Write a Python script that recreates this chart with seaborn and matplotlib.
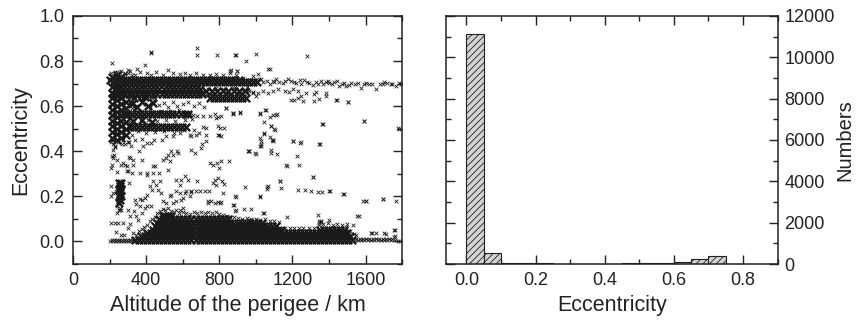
import matplotlib
matplotlib.use("Agg")
import matplotlib.pyplot as plt
from matplotlib.ticker import MultipleLocator, FormatStrFormatter
import pandas as pd
import seaborn as sns

# ---------------- data: scatter (altitude of perigee [km], eccentricity) ----------------
# isolated / sparse objects
outlier_pts = [
    (211,.793),(424,.834),(424,.841),(678,.859),(678,.825),(787,.825),(884,.825),(890,.825),(944,.799),
    (1002,.833),(1278,.822),(395,.784),(865,.759),(896,.756),(1067,.766),
    (1593,.536),(1362,.519),(1780,.504),(1502,.618),(1438,.627),(1344,.43),(1202,.444),(1247,.44),
    (1225,.381),(1235,.338),(1165,.338),(1311,.284),(1315,.284),(1133,.27),(1138,.237),(1229,.23),
    (1271,.227),(1300,.222),(1338,.218),(1362,.218),(1402,.225),(1480,.21),(1584,.178),(1605,.178),
    (1698,.188),(1765,.178),(1025,.2),(1062,.24),(1062,.233),(942,.24),(935,.145),(1042,.126),(973,.096),
    (1169,.108),(1340,.119),(1355,.089),(1347,.082),(1398,.096),(1496,.077),(1533,.074),(1556,.111),
    (1629,.037),(1656,.039),(1702,.037),(1711,.033),(1756,.052),(1756,.022),(1762,.007),
    (707,.43),(698,.415),(729,.474),(687,.481),(642,.471),(662,.492),(638,.564),(715,.597),(778,.563),
    (793,.553),(811,.556),(825,.504),(791,.514),(798,.471),(809,.467),(787,.348),(798,.326),(851,.356),
    (835,.593),(873,.567),(913,.57),(958,.4),(962,.4),(995,.393),(1025,.563),(1051,.581),(1029,.444),
    (1025,.422),(1042,.481),(1045,.478),(1078,.462),(1093,.452),(1084,.511),(1104,.496),(1082,.404),
    (1080,.553),(1111,.559),(1116,.39),
    (820,.215),(815,.267),(825,.255),(802,.17),(793,.173),(811,.173),(885,.2),(889,.141),(744,.222),
    (720,.222),(680,.267),(693,.222),(638,.2),(644,.218),(629,.274),(611,.292),(565,.274),(571,.4),
    (575,.393),(547,.385),(533,.356),(520,.319),(475,.267),(471,.304),(456,.252),(467,.23),(482,.215),
    (451,.333),(407,.304),(404,.296),(425,.156),(402,.207),(375,.185),(347,.167),(335,.133),(344,.114),
    (307,.259),(302,.311),(320,.304),(305,.375),(311,.37),(329,.341),(285,.338),(293,.333),(242,.36),
    (216,.37),(211,.341),(207,.326),(238,.308),(269,.267),(233,.222),(220,.215),(207,.244),(207,.2),
    (242,.156),(251,.141),(238,.126),(207,.081),(229,.081),(247,.084),(275,.084),(235,.044),(260,.03),
    (278,.03),(302,.062),(311,.079),(329,.037),(356,.096),(375,.126),(384,.422),(402,.437),(429,.437),
    (442,.452),(362,.4),(375,.363),(307,.44),(315,.422),(275,.452),(284,.43),(229,.425),(220,.407),
    (224,.385),(213,.452),(584,.481),(607,.496),(547,.467),(511,.467),(484,.452),
    (211,.378),(265,.341),(274,.349),(293,.311),(329,.363),(365,.304),(438,.334),(438,.304),(438,.267),
    (420,.244),(434,.23),(393,.193),(402,.156),(393,.149),(338,.185),(365,.188),(302,.141),(311,.111),
    (365,.156),(493,.178),(529,.2),(538,.207),(511,.17),(547,.17),(565,.178),(593,.185),(602,.193),
    (611,.215),(620,.222),(593,.274),(584,.215),(584,.252),(511,.37),(520,.385),(538,.4),(493,.363),
    (565,.222),(647,.222),(675,.222),(647,.407),(665,.393),(747,.347),(765,.341),(811,.356),(775,.274),
    (793,.281),(765,.259),(784,.252),(738,.178),(756,.178),(775,.17),(738,.17),(875,.163),(884,.133),
    (602,.148),(584,.141),(965,.4),(1000,.39),(1029,.43),(1093,.445),(1242,.437),(1351,.43),(1084,.393),
    (1169,.336),(1131,.27),(1065,.244),(1407,.226),(1476,.21),(1602,.181),(1696,.188),(1024,.197),
    (889,.196),(878,.16),(971,.145),(1038,.126),(1344,.093),(1356,.087),(1562,.111),(1635,.036),
    (1760,.051),(1760,.025),(255,.15),(250,.14),(262,.138),
]

# sparse objects around the high-eccentricity bands
upper_sparse_pts = [
    (1111,.719),(1129,.707),(1147,.701),(1175,.719),(1193,.711),(1220,.701),(1247,.696),(1266,.716),
    (1293,.701),(1329,.707),(1357,.711),(1384,.708),(1402,.704),(1442,.711),(1457,.689),(1484,.701),
    (1493,.689),(1520,.701),(1557,.704),(1575,.682),(1602,.704),(1638,.699),(1657,.677),(1693,.696),
    (1720,.701),(1747,.696),(1766,.689),(1784,.701),
    (1040,.705),(1060,.712),(1080,.698),(1100,.705),(1160,.712),(1210,.708),(1240,.715),(1280,.708),
    (1310,.695),(1340,.700),(1370,.698),(1395,.712),(1415,.700),(1430,.705),(1470,.698),(1510,.695),
    (1540,.698),(1590,.697),(1620,.70),(1680,.70),(1700,.705),(1740,.70),(1795,.697),
    (875,.674),(929,.667),(956,.67),(984,.662),(1038,.667),(1066,.659),(1093,.667),(1120,.674),
    (1157,.667),(1184,.662),(1202,.674),(1229,.667),(1193,.627),(1211,.627),(1229,.637),(1247,.645),
    (1260,.622),(1275,.659),(1320,.652),(1329,.662),(1384,.659),(1347,.633),(1320,.622),(1384,.645),
    (1442,.627),(1502,.618),
    (875,.568),(916,.573),(1024,.568),(1053,.582),(1093,.559),(1115,.563),(1044,.529),(1084,.511),
    (1102,.5),(1366,.522),(1593,.533),(1784,.5),(1024,.459),(1089,.452),(1202,.445),(1029,.425),
    (229,.735),(256,.748),(284,.742),(311,.755),(338,.738),(365,.75),(402,.745),(429,.738),(456,.752),
    (493,.74),(520,.758),(547,.745),(584,.742),(611,.748),(638,.738),(675,.745),(711,.74),(747,.736),
    (784,.742),(820,.738),(857,.745),(893,.74),(856,.756),(896,.756),(929,.726),(984,.733),(1011,.741),
    (1075,.763),(1029,.719),(1093,.711),(300,.762),(350,.765),(240,.752),
    (930,.712),(955,.705),(975,.718),(995,.71),(1015,.722),
    (240,.645),(270,.638),(300,.64),(330,.645),(360,.636),(390,.642),(420,.638),(445,.64),(680,.645),
    (700,.66),(720,.648),(740,.675),(760,.655),(780,.682),(800,.66),(820,.675),(850,.66),(880,.68),
    (910,.66),(940,.672),(960,.665),(985,.658),(1000,.645),(1010,.66),(950,.685),(600,.69),(640,.69),
    (520,.69),(450,.69),(380,.69),
    (320,.62),(345,.60),(370,.63),(395,.61),(420,.59),(445,.625),(470,.605),(495,.615),(520,.595),
    (545,.62),(570,.60),(600,.61),(630,.62),(660,.60),(690,.615),(340,.585),(380,.58),(430,.575),
    (480,.58),(530,.58),(580,.585),(330,.54),(370,.535),(410,.54),(460,.535),(510,.54),(560,.535),
    (610,.54),(650,.545),(355,.49),(400,.48),(450,.485),(500,.49),(550,.48),(320,.47),(340,.45),
    (380,.455),(711,.556),(747,.556),(784,.548),(838,.593),(875,.568),(711,.508),(729,.504),(802,.504),
    (793,.474),(647,.467),(675,.474),(729,.445),(655,.56),(680,.555),
    (205,.60),(208,.55),(206,.44),(220,.43),(230,.42),(245,.44),(270,.43),(300,.44),
    (210,.745),(230,.75),(260,.755),(285,.748),(300,.745),(320,.74),(310,.61),(320,.59),(315,.66),
    (330,.64),(300,.70),(305,.67),(310,.50),(305,.53),(312,.56),
]

# ragged upper edge of the low-eccentricity cloud
fringe_pts = [
    (345,.03),(360,.045),(378,.055),(390,.065),(405,.075),(420,.09),(432,.10),(448,.11),(460,.125),
    (475,.135),(490,.145),(505,.14),(520,.15),(535,.135),(550,.13),(565,.14),(580,.125),(600,.13),
    (620,.125),(640,.12),(660,.13),(680,.125),(700,.13),(720,.128),(740,.132),(760,.125),(780,.13),
    (800,.12),(820,.118),(840,.112),(860,.108),(880,.11),(900,.105),(925,.1),(950,.102),(975,.098),
    (1000,.1),(1025,.095),(1050,.098),(1075,.092),(1100,.09),(1125,.085),(1160,.062),(1185,.06),
    (1210,.058),(1235,.062),(1260,.06),(1290,.058),(1320,.062),(1345,.075),(1370,.078),(1395,.08),
    (1420,.075),(1445,.078),(1470,.072),(1495,.065),(1515,.045),(1535,.035),(1550,.028),
]

# thin strips of near-circular orbits at low and high perigee
strip_pts = [
    (205,.004),(212,.008),(219,.004),(226,.008),(233,.004),(240,.008),(247,.004),(254,.008),(261,.004),
    (268,.008),(275,.004),(282,.008),(289,.004),(296,.008),(303,.004),(310,.008),(317,.004),(324,.008),
    (331,.004),
    (1540,.005),(1549,.01),(1558,.005),(1567,.01),(1576,.005),(1585,.01),(1594,.005),(1603,.01),
    (1612,.005),(1621,.01),(1630,.005),(1639,.01),(1648,.005),(1657,.01),(1666,.005),(1675,.01),
    (1684,.005),(1693,.01),(1702,.005),(1711,.01),(1720,.005),(1729,.01),(1738,.005),(1747,.01),
    (1775,.003),(1790,.002),
]

# dense cores (drawn with heavier crosses)
core_low_pts = [
    (340,.008),(362,.008),(384,.008),(406,.008),(428,.008),(450,.008),(472,.008),(494,.008),(516,.008),
    (538,.008),(560,.008),(582,.008),(604,.008),(626,.008),(648,.008),(670,.008),(692,.008),(714,.008),
    (736,.008),(758,.008),(780,.008),(802,.008),(824,.008),(846,.008),(868,.008),(890,.008),(912,.008),
    (934,.008),(956,.008),(978,.008),(1000,.008),(1022,.008),(1044,.008),(1066,.008),(1088,.008),
    (1110,.008),(1132,.008),(1154,.008),(1176,.008),(1198,.008),(1220,.008),(1242,.008),(1264,.008),
    (1286,.008),(1308,.008),(1330,.008),(1352,.008),(1374,.008),(1396,.008),(1418,.008),(1440,.008),
    (1462,.008),(1484,.008),(1506,.008),(1528,.008),
    (373,.023),(395,.023),(417,.023),(439,.023),(461,.023),(483,.023),(505,.023),(527,.023),(549,.023),
    (571,.023),(593,.023),(615,.023),(637,.023),(659,.023),(681,.023),(703,.023),(725,.023),(747,.023),
    (769,.023),(791,.023),(813,.023),(835,.023),(857,.023),(879,.023),(901,.023),(923,.023),(945,.023),
    (967,.023),(989,.023),(1011,.023),(1033,.023),(1055,.023),(1077,.023),(1099,.023),(1121,.023),
    (1143,.023),(1165,.023),(1187,.023),(1209,.023),(1231,.023),(1253,.023),(1275,.023),(1297,.023),
    (1319,.023),(1341,.023),(1363,.023),(1385,.023),(1407,.023),(1429,.023),(1451,.023),(1473,.023),
    (1495,.023),(1517,.023),
    (406,.038),(428,.038),(450,.038),(472,.038),(494,.038),(516,.038),(538,.038),(560,.038),(582,.038),
    (604,.038),(626,.038),(648,.038),(670,.038),(692,.038),(714,.038),(736,.038),(758,.038),(780,.038),
    (802,.038),(824,.038),(846,.038),(868,.038),(890,.038),(912,.038),(934,.038),(956,.038),(978,.038),
    (1000,.038),(1022,.038),(1044,.038),(1066,.038),(1088,.038),(1110,.038),(1132,.038),(1154,.038),
    (1176,.038),(1198,.038),(1220,.038),(1242,.038),(1264,.038),(1286,.038),(1308,.038),(1330,.038),
    (1352,.038),(1374,.038),(1396,.038),(1418,.038),(1440,.038),(1462,.038),(1484,.038),(1500,.038),
    (439,.053),(461,.053),(483,.053),(505,.053),(527,.053),(549,.053),(571,.053),(593,.053),(615,.053),
    (637,.053),(659,.053),(681,.053),(703,.053),(725,.053),(747,.053),(769,.053),(791,.053),(813,.053),
    (835,.053),(857,.053),(879,.053),(901,.053),(923,.053),(945,.053),(967,.053),(989,.053),(1011,.053),
    (1033,.053),(1055,.053),(1077,.053),(1099,.053),(1121,.053),(1140,.053),
    (1352,.053),(1374,.053),(1396,.053),(1418,.053),(1440,.053),(1462,.053),(1484,.053),
    (450,.068),(472,.068),(494,.068),(516,.068),(538,.068),(560,.068),(582,.068),(604,.068),(626,.068),
    (648,.068),(670,.068),(692,.068),(714,.068),(736,.068),(758,.068),(780,.068),(802,.068),(824,.068),
    (846,.068),(868,.068),(890,.068),(912,.068),(934,.068),(956,.068),(978,.068),(1000,.068),(1022,.068),
    (1044,.068),(1066,.068),(1088,.068),(1110,.068),
    (461,.083),(483,.083),(505,.083),(527,.083),(549,.083),(571,.083),(593,.083),(615,.083),(637,.083),
    (659,.083),(681,.083),(703,.083),(725,.083),(747,.083),(769,.083),(791,.083),(813,.083),(835,.083),
    (857,.083),(879,.083),(901,.083),(923,.083),(945,.083),(967,.083),(989,.083),(1011,.083),(1033,.083),
    (472,.098),(494,.098),(516,.098),(538,.098),(560,.098),(582,.098),(604,.098),(626,.098),(648,.098),
    (670,.098),(692,.098),(714,.098),(736,.098),(758,.098),(780,.098),(802,.098),(824,.098),(846,.098),
    (490,.112),(505,.112),(520,.112),(535,.112),
]

core_upper_pts = [
    (205,.718),(227,.718),(249,.718),(271,.718),(293,.718),(315,.718),(337,.718),(359,.718),(381,.718),
    (403,.718),(425,.718),(447,.718),(469,.718),(491,.718),(513,.718),(535,.718),(557,.718),(579,.718),
    (601,.718),(623,.718),(645,.718),(667,.718),(689,.718),(711,.718),(733,.718),(755,.718),(777,.718),
    (799,.718),(821,.718),(843,.718),(865,.718),(887,.718),(909,.718),
    (216,.705),(238,.705),(260,.705),(282,.705),(304,.705),(326,.705),(348,.705),(370,.705),(392,.705),
    (414,.705),(436,.705),(458,.705),(480,.705),(502,.705),(524,.705),(546,.705),(568,.705),(590,.705),
    (612,.705),(634,.705),(656,.705),(678,.705),(700,.705),(722,.705),(744,.705),(766,.705),(788,.705),
    (810,.705),(832,.705),(854,.705),(876,.705),(898,.705),(920,.705),(942,.705),(964,.705),(986,.705),
    (1008,.705),
    (220,.655),(242,.655),(264,.655),(286,.655),(308,.655),(330,.655),(352,.655),(374,.655),(396,.655),
    (418,.655),(440,.655),(462,.655),(484,.655),(506,.655),(528,.655),(550,.655),(572,.655),(594,.655),
    (616,.655),(638,.655),(660,.655),(682,.655),(704,.655),
    (231,.677),(253,.677),(275,.677),(297,.677),(319,.677),(341,.677),(363,.677),(385,.677),(407,.677),
    (429,.677),(451,.677),(473,.677),(495,.677),(517,.677),(539,.677),(561,.677),(583,.677),(605,.677),
    (627,.677),(649,.677),(671,.677),(693,.677),
    (730,.668),(760,.668),(790,.668),(820,.668),(850,.668),(880,.668),(910,.668),(940,.668),
    (750,.637),(772,.637),(794,.637),(816,.637),(838,.637),(860,.637),(882,.637),(904,.637),(926,.637),
    (948,.637),
    (320,.61),(350,.595),(380,.62),(410,.60),(440,.615),(335,.635),(395,.64),(330,.535),(380,.54),(430,.53),
    (280,.565),(302,.565),(324,.565),(346,.565),(368,.565),(390,.565),(412,.565),(434,.565),(456,.565),
    (478,.565),(500,.565),(522,.565),(544,.565),(566,.565),(588,.565),(610,.565),(628,.565),
    (312,.508),(334,.508),(356,.508),(378,.508),(400,.508),(422,.508),(444,.508),(466,.508),(488,.508),
    (510,.508),(532,.508),(554,.508),(576,.508),(598,.508),(618,.508),
    (213,.46),(213,.485),(213,.51),(213,.535),(213,.56),(213,.585),(213,.61),(213,.635),(213,.66),(213,.685),(213,.73),
    (238,.45),(238,.475),(238,.50),(238,.525),(238,.55),(238,.575),(238,.60),(238,.625),(238,.65),(238,.675),(238,.74),
    (263,.46),(263,.485),(263,.51),(263,.535),(263,.56),(263,.585),(263,.61),(263,.635),(263,.66),(263,.685),(263,.73),
    (290,.47),(290,.50),(290,.53),(290,.56),(290,.59),(290,.62),
    (250,.26),(265,.26),(258,.245),(250,.23),(265,.23),(258,.215),(250,.2),(265,.2),(258,.185),(252,.17),
]

# ---------------- data: histogram of eccentricity ----------------
ecc_bin_edges = [0.0, 0.05, 0.10, 0.15, 0.20, 0.25, 0.30, 0.35, 0.40, 0.45, 0.50, 0.55, 0.60, 0.65, 0.70, 0.75, 0.80]
ecc_bin_centers = [0.025, 0.075, 0.125, 0.175, 0.225, 0.275, 0.325, 0.375, 0.425, 0.475, 0.525, 0.575, 0.625, 0.675, 0.725, 0.775]
ecc_bin_counts = [11100, 520, 40, 50, 70, 15, 10, 10, 12, 30, 50, 60, 115, 235, 400, 5]

# ---------------- styling ----------------
sns.set_theme(style="ticks")
plt.rcParams["font.family"] = ["Liberation Sans", "DejaVu Sans"]
plt.rcParams["hatch.linewidth"] = 0.6
plt.rcParams["hatch.color"] = "#333333"
ink = "#222222"

fig = plt.figure(figsize=(8.57, 3.24), dpi=100)
ax1 = fig.add_axes([0.0852, 0.185, 0.384, 0.766])
ax2 = fig.add_axes([0.520, 0.185, 0.3874, 0.766])


def frame(pts):
    return pd.DataFrame(pts, columns=["alt", "ecc"])


small_df = pd.concat([frame(outlier_pts), frame(upper_sparse_pts), frame(fringe_pts), frame(strip_pts)],
                     ignore_index=True)
core_df = pd.concat([frame(core_low_pts), frame(core_upper_pts)], ignore_index=True)

sns.scatterplot(data=small_df, x="alt", y="ecc", marker="x", s=7, color="#1a1a1a",
                linewidth=0.6, ax=ax1, legend=False)
sns.scatterplot(data=core_df, x="alt", y="ecc", marker="x", s=28, color="#1a1a1a",
                linewidth=1.7, ax=ax1, legend=False)

ax1.set_xlim(0, 1800)
ax1.set_ylim(-0.1, 1.0)
ax1.xaxis.set_major_locator(MultipleLocator(400))
ax1.xaxis.set_minor_locator(MultipleLocator(200))
ax1.yaxis.set_major_locator(MultipleLocator(0.2))
ax1.yaxis.set_minor_locator(MultipleLocator(0.1))
ax1.yaxis.set_major_formatter(FormatStrFormatter("%.1f"))
ax1.set_xlabel("Altitude of the perigee / km", fontsize=15.5, color=ink, labelpad=4)
ax1.set_ylabel("Eccentricity", fontsize=15.5, color=ink, labelpad=6)

sns.histplot(x=ecc_bin_centers, weights=ecc_bin_counts, bins=ecc_bin_edges, ax=ax2,
             color="#d3d3d3", edgecolor="#222222", linewidth=0.8, alpha=1.0, hatch="/////")
ax2.set_xlim(-0.06, 0.9)
ax2.set_ylim(0, 12000)
ax2.xaxis.set_major_locator(MultipleLocator(0.2))
ax2.xaxis.set_minor_locator(MultipleLocator(0.1))
ax2.xaxis.set_major_formatter(FormatStrFormatter("%.1f"))
ax2.yaxis.set_major_locator(MultipleLocator(2000))
ax2.yaxis.set_minor_locator(MultipleLocator(1000))
ax2.set_xlabel("Eccentricity", fontsize=15.5, color=ink, labelpad=4)
ax2.yaxis.set_label_position("right")
ax2.set_ylabel("Numbers", fontsize=14.5, color=ink, labelpad=0)

for ax in (ax1, ax2):
    ax.tick_params(which="both", direction="in", top=True, right=True, left=True, bottom=True,
                   width=1.0, color=ink, labelcolor=ink, labelsize=13, pad=6)
    ax.tick_params(which="major", length=6.5)
    ax.tick_params(which="minor", length=3.5)
    for sp in ax.spines.values():
        sp.set_linewidth(1.1)
        sp.set_color(ink)
        sp.set_visible(True)

ax2.tick_params(axis="y", which="both", labelleft=False, labelright=True, pad=5)

fig.savefig("out.png", dpi=100)
